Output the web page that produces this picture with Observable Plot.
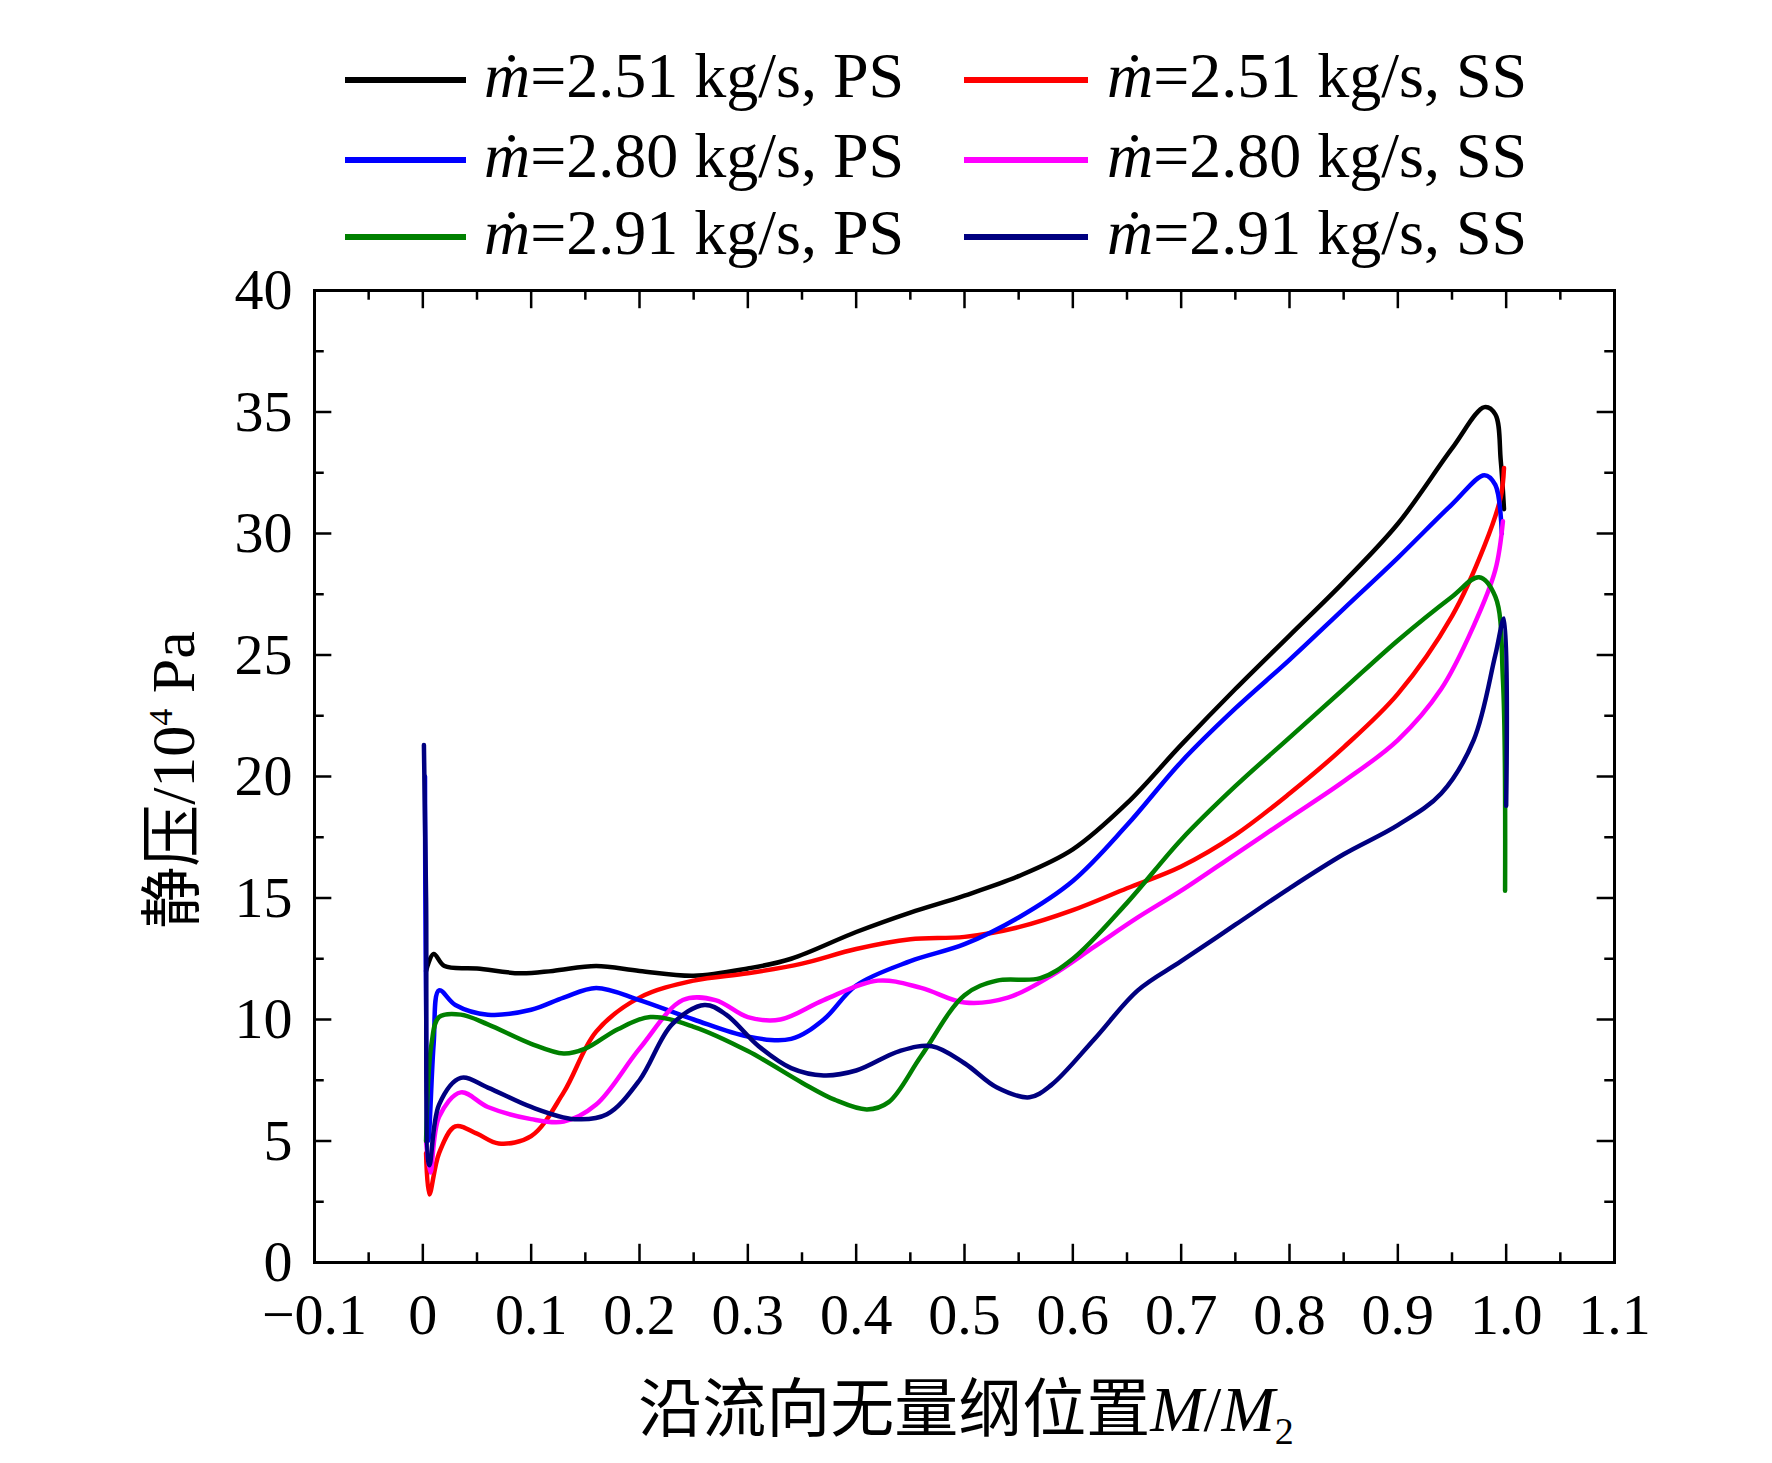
<!DOCTYPE html>
<html><head><meta charset="utf-8">
<script src="https://cdn.jsdelivr.net/npm/d3@7"></script>
<script src="https://cdn.jsdelivr.net/npm/@observablehq/plot@0.6"></script>
<style>
body{margin:0;background:#fff;font-family:"Liberation Serif","Noto Sans CJK SC",serif;}
#wrap{position:relative;width:1772px;height:1463px;}
.lg{position:absolute;font-size:64px;line-height:64px;white-space:nowrap;}
.sw{position:absolute;height:6px;}
#chart{position:absolute;left:0;top:255px;}
</style></head><body><div id="wrap"><div id="chart"></div></div>
<script>
const seriesNames=["ṁ=2.51 kg/s, PS","ṁ=2.51 kg/s, SS","ṁ=2.80 kg/s, PS","ṁ=2.80 kg/s, SS","ṁ=2.91 kg/s, PS","ṁ=2.91 kg/s, SS"];
const seriesColors=["#000000","#ff0000","#0000ff","#ff00ff","#008000","#000080"];
const ps251=[[0.003,12.0],[0.01,12.7],[0.02,12.2],[0.05,12.1],[0.09,11.9],[0.12,12.0],[0.16,12.2],[0.2,12.0],[0.25,11.8],[0.3,12.1],[0.34,12.5],[0.4,13.6],[0.45,14.4],[0.5,15.1],[0.55,15.9],[0.6,17.0],[0.65,18.9],[0.7,21.3],[0.75,23.6],[0.8,25.8],[0.85,28.0],[0.9,30.4],[0.95,33.5],[0.98,35.2],[0.99,34.9],[0.995,33],[0.998,31]];
const ss251=[[0.003,4.5],[0.006,2.8],[0.015,4.5],[0.03,5.6],[0.05,5.3],[0.07,4.9],[0.1,5.2],[0.13,7],[0.16,9.5],[0.2,10.9],[0.25,11.6],[0.3,11.9],[0.35,12.3],[0.4,12.9],[0.45,13.3],[0.5,13.4],[0.55,13.8],[0.6,14.5],[0.65,15.4],[0.7,16.3],[0.75,17.6],[0.8,19.3],[0.85,21.2],[0.9,23.4],[0.95,26.6],[0.98,29.5],[0.995,31.5],[0.998,32.7]];
const ps280=[[0.002,20],[0.005,5],[0.01,9],[0.015,11.2],[0.03,10.6],[0.06,10.2],[0.1,10.4],[0.13,10.9],[0.16,11.3],[0.2,10.8],[0.25,10],[0.3,9.3],[0.34,9.2],[0.37,10],[0.4,11.4],[0.45,12.4],[0.5,13.1],[0.55,14.2],[0.6,15.7],[0.65,18],[0.7,20.6],[0.75,22.8],[0.8,24.8],[0.85,26.9],[0.9,29],[0.95,31.2],[0.98,32.4],[0.99,32],[0.996,30]];
const ss280=[[0.003,5],[0.007,3.7],[0.015,6],[0.035,7],[0.06,6.4],[0.1,5.9],[0.13,5.8],[0.16,6.5],[0.2,8.8],[0.24,10.8],[0.27,10.8],[0.3,10.1],[0.33,10],[0.37,10.8],[0.42,11.6],[0.46,11.3],[0.5,10.7],[0.54,10.9],[0.58,11.8],[0.62,13],[0.66,14.2],[0.7,15.3],[0.75,16.8],[0.8,18.3],[0.85,19.8],[0.9,21.5],[0.94,23.6],[0.97,26.2],[0.99,28.5],[0.997,30.5]];
const ps291=[[0.003,5],[0.008,9],[0.015,10.1],[0.035,10.2],[0.06,9.8],[0.1,9.0],[0.13,8.6],[0.15,8.8],[0.18,9.6],[0.21,10.1],[0.25,9.7],[0.3,8.7],[0.35,7.4],[0.38,6.7],[0.41,6.3],[0.43,6.6],[0.46,8.5],[0.5,11.0],[0.53,11.6],[0.57,11.7],[0.6,12.5],[0.65,14.8],[0.7,17.4],[0.75,19.6],[0.8,21.6],[0.85,23.6],[0.9,25.6],[0.95,27.4],[0.975,28.2],[0.99,27.4],[0.997,24],[0.999,15.3]];
const ss291=[[0.001,21.3],[0.003,15],[0.006,4],[0.015,6.5],[0.035,7.6],[0.06,7.2],[0.1,6.4],[0.14,5.9],[0.17,6.1],[0.2,7.5],[0.23,9.8],[0.26,10.6],[0.28,10.2],[0.31,8.9],[0.34,8.0],[0.37,7.7],[0.4,7.9],[0.44,8.7],[0.47,8.9],[0.5,8.2],[0.53,7.2],[0.56,6.8],[0.58,7.3],[0.62,9.2],[0.66,11.2],[0.7,12.4],[0.75,13.9],[0.8,15.4],[0.85,16.8],[0.9,18.0],[0.94,19.3],[0.97,21.5],[0.99,25],[0.998,26.5],[1.0,18.8]];
const xTicks=[-0.1,0,0.1,0.2,0.3,0.4,0.5,0.6,0.7,0.8,0.9,1.0,1.1];
const xTickLabels=["\u22120.1","0","0.1","0.2","0.3","0.4","0.5","0.6","0.7","0.8","0.9","1.0","1.1"];
const yTicks=[0,5,10,15,20,25,30,35,40];
const xMinor=d3.range(-0.05,1.1,0.1);
const yMinor=d3.range(2.5,40,5);

const all=[ps251,ss251,ps280,ss280,ps291,ss291];
const rows=[];
all.forEach((s,i)=>s.forEach(([x,y])=>rows.push({x,y,s:seriesNames[i]})));
const fs=58;
const chart=Plot.plot({
  width:1772,height:1208,marginLeft:314,marginRight:158,marginTop:35,marginBottom:201,
  style:{fontFamily:"Liberation Serif",fontSize:fs+"px",color:"#000",background:"#fff"},
  x:{domain:[-0.1,1.1]},y:{domain:[0,40]},
  color:{domain:seriesNames,range:seriesColors},
  marks:[
    Plot.ruleX(xTicks,{y1:0,y2:0.75,strokeWidth:2.5}),
    Plot.ruleX(xTicks,{y1:40,y2:39.25,strokeWidth:2.5}),
    Plot.ruleX(xMinor,{y1:0,y2:0.4,strokeWidth:2.5}),
    Plot.ruleX(xMinor,{y1:40,y2:39.6,strokeWidth:2.5}),
    Plot.ruleY(yTicks,{x1:-0.1,x2:-0.084,strokeWidth:2.5}),
    Plot.ruleY(yTicks,{x1:1.1,x2:1.084,strokeWidth:2.5}),
    Plot.ruleY(yMinor,{x1:-0.1,x2:-0.091,strokeWidth:2.5}),
    Plot.ruleY(yMinor,{x1:1.1,x2:1.091,strokeWidth:2.5}),
    Plot.axisX(xTicks,{tickSize:0,tickPadding:30,tickFormat:(d,i)=>xTickLabels[i],fontSize:fs,label:null}),
    Plot.axisY(yTicks,{tickSize:0,tickPadding:22,fontSize:fs,label:null}),
    Plot.line(rows,{x:"x",y:"y",z:"s",stroke:"s",strokeWidth:4.5,curve:"catmull-rom"}),
    Plot.frame({stroke:"#000",strokeWidth:3})
  ]
});
document.getElementById("chart").appendChild(chart);
const wrap=document.getElementById("wrap");
const rowY=[80,160,237];
seriesNames.forEach((n,i)=>{
  const col=i%2,row=Math.floor(i/2);
  const sw=document.createElement("div");sw.className="sw";
  sw.style.left=(col?964:345)+"px";sw.style.width=(col?124:121)+"px";sw.style.top=(rowY[row]-3)+"px";sw.style.background=seriesColors[i];
  wrap.appendChild(sw);
  const t=document.createElement("div");t.className="lg";
  t.style.left=(col?1107:484)+"px";t.style.top=(rowY[row]-36)+"px";
  t.innerHTML="<i>ṁ</i>"+n.slice(1);
  wrap.appendChild(t);
});
const yl=document.createElement("div");
yl.style.cssText="position:absolute;left:167px;top:780px;font-size:62px;white-space:nowrap;transform:translate(-50%,-50%) rotate(-90deg);";
yl.innerHTML='静压/10<sup style="font-size:34px">4</sup> Pa';
wrap.appendChild(yl);
const xl=document.createElement("div");
xl.style.cssText="position:absolute;left:966px;top:1405px;font-size:64px;white-space:nowrap;transform:translate(-50%,-50%);";
xl.innerHTML='沿流向无量纲位置<i>M</i>/<i>M</i><sub style="font-size:38px">2</sub>';
wrap.appendChild(xl);
</script></body></html>
